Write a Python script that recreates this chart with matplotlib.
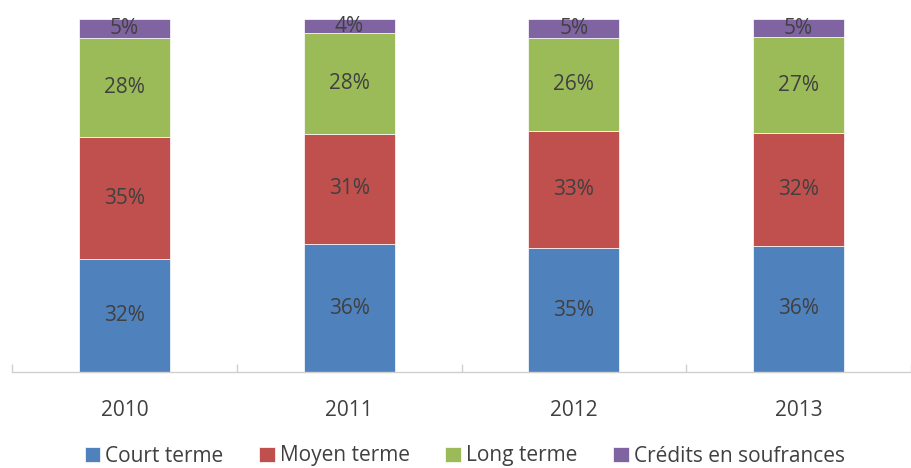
import matplotlib
matplotlib.use("Agg")
import matplotlib.pyplot as plt
import numpy as np

categories = ["2010", "2011", "2012", "2013"]
series_names = ["Court terme", "Moyen terme", "Long terme", "Crédits en soufrances"]
court = [31.9, 36.2, 35.1, 35.7]
moyen = [34.6, 31.3, 33.2, 32.1]
long_ = [28.0, 28.4, 26.4, 27.0]
credits = [5.4, 4.1, 5.3, 5.2]
colors = ["#4F81BD", "#C0504D", "#9BBB59", "#8064A2"]

plt.rcParams['font.family'] = ['Open Sans', 'DejaVu Sans']

fig = plt.figure(figsize=(9.11, 4.68), dpi=100)
W, H = 911, 468
ax = fig.add_axes([12 / W, (H - 372) / H, (911 - 12) / W, (372 - 19) / H])

x = np.arange(len(categories))
bottom = np.zeros(len(categories))
handles = []
for name, vals, col in zip(series_names, [court, moyen, long_, credits], colors):
    vals = np.array(vals)
    b = ax.bar(x, vals, width=0.405, bottom=bottom, color=col, edgecolor="#ffffff",
               linewidth=0.5, label=name)
    handles.append(b)
    for xi, v, bo in zip(x, vals, bottom):
        ax.text(xi, bo + v / 2, f"{v:.0f}%", ha="center", va="center",
                fontsize=15, color="#404040")
    bottom += vals

ax.set_xlim(-0.5, len(categories) - 0.5)
ax.set_ylim(0, 100)
for s in ["top", "right", "left"]:
    ax.spines[s].set_visible(False)
ax.spines["bottom"].set_color("#d0d0d0")
ax.spines["bottom"].set_linewidth(1.0)
ax.set_yticks([])
ax.set_xticks(x)
ax.set_xticklabels(categories, fontsize=15, color="#404040")
ax.tick_params(axis="x", which="major", length=0, pad=20)
ax.set_xticks(np.arange(-0.5, len(categories), 1.0), minor=True)
ax.tick_params(axis="x", which="minor", direction="in", length=5.5, color="#d0d0d0", width=1.0)

fig.legend(handles=handles, labels=series_names, loc="center", bbox_to_anchor=(0.51, (H - 456) / H),
           ncol=4, frameon=False, fontsize=15, handlelength=0.75, handleheight=0.75,
           handletextpad=0.25, columnspacing=1.7, labelcolor="#404040")

fig.savefig("out.png", dpi=100)
